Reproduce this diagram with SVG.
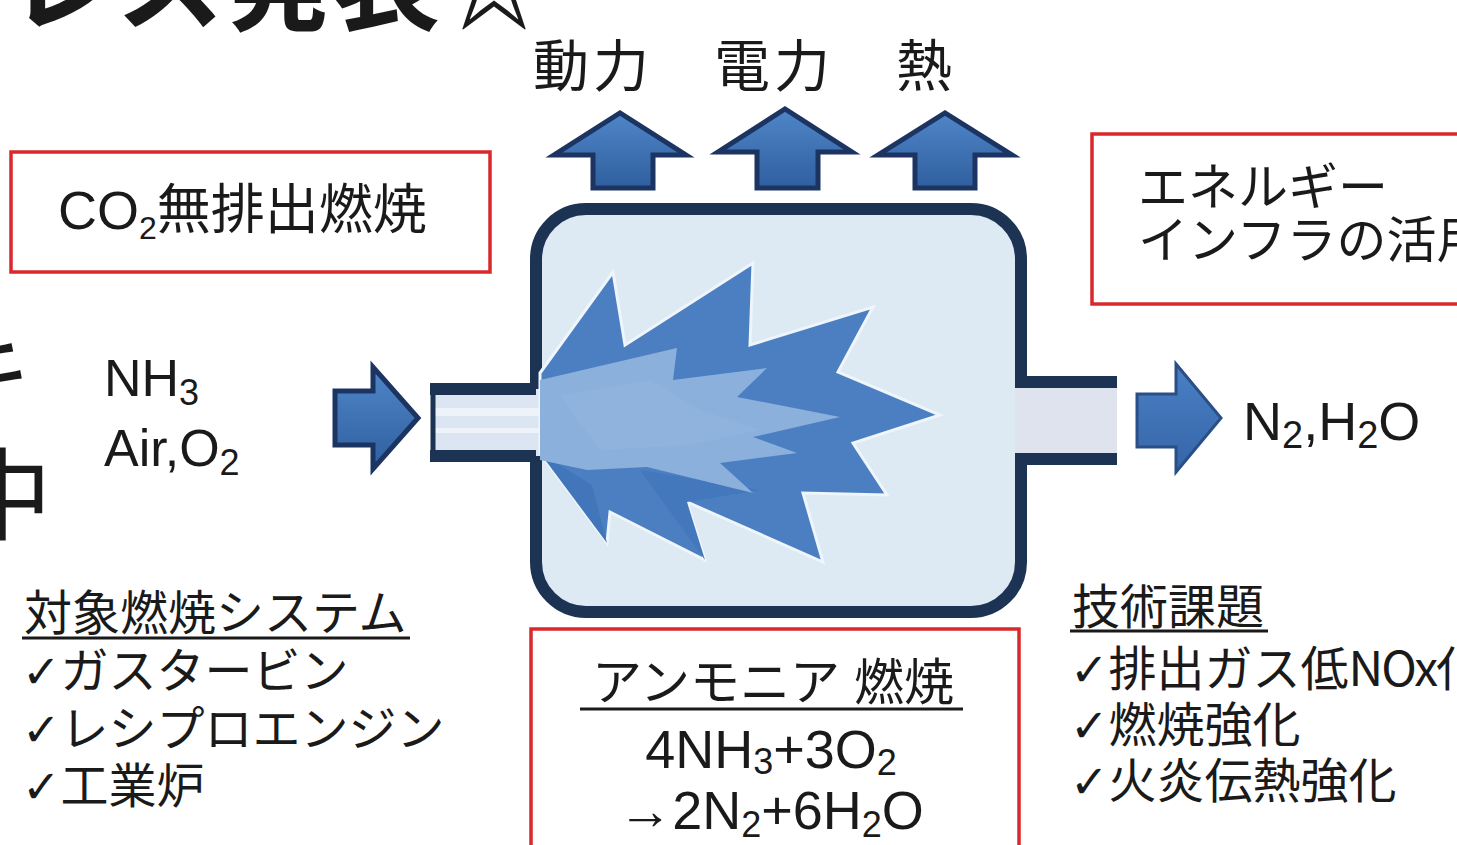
<svg xmlns="http://www.w3.org/2000/svg" width="1457" height="845" viewBox="0 0 1457 845">
  <defs>
    <style>
      .jp { font-family: "Liberation Sans", "Noto Sans CJK JP", sans-serif; fill: #1a1a1a; }
      .cjk { font-family: "Noto Sans CJK JP", sans-serif; fill: #1a1a1a; }
      .tick { font-family: "DejaVu Sans", sans-serif; font-size: 46px; }
      .redbox { fill: #ffffff; stroke: #d8282c; stroke-width: 3.5; }
      .wall { fill: none; stroke: #1d3354; stroke-width: 12; stroke-linecap: butt; }
      .arrow { fill: url(#arrowFill); stroke: #1c3462; stroke-width: 5; stroke-linejoin: miter; }
      .ul { stroke: #1a1a1a; stroke-width: 3; }
    </style>
    <linearGradient id="arrowFill" x1="0" y1="0" x2="0" y2="1">
      <stop offset="0" stop-color="#4f86c8"/>
      <stop offset="1" stop-color="#2f5f9f"/>
    </linearGradient>
    <linearGradient id="arrowFillH" x1="0" y1="0" x2="0" y2="1">
      <stop offset="0" stop-color="#4a80c4"/>
      <stop offset="1" stop-color="#3565a8"/>
    </linearGradient>
  </defs>

  <rect width="1457" height="845" fill="#ffffff"/>

  <!-- heading, running off the top edge -->
  <text class="jp" x="8" y="22" font-size="108" font-weight="bold">レス発表☆</text>
  <!-- characters running off the left edge -->
  <text class="jp" x="-18" y="410" font-size="100" text-anchor="middle">キ</text>
  <text class="jp" x="2" y="532" font-size="100" text-anchor="middle">中</text>

  <!-- outputs -->
  <g id="label-power">
    <text class="jp" x="533" y="86" font-size="56" letter-spacing="4">動力</text>
  </g>
  <g id="label-electric">
    <text class="jp" x="714" y="86" font-size="56" letter-spacing="4">電力</text>
  </g>
  <g id="label-heat">
    <text class="jp" x="896" y="86" font-size="56">熱</text>
  </g>

  <g id="co2-box">
    <rect class="redbox" x="11" y="152" width="479" height="120"/>
    <text class="jp" x="58" y="229" font-size="54">CO<tspan font-size="32" dy="10">2</tspan><tspan dy="-10">無排出燃焼</tspan></text>
  </g>

  <g id="infra-box">
    <rect class="redbox" x="1092" y="134" width="380" height="170"/>
    <text class="jp" x="1138" y="205" font-size="50">エネルギー</text>
    <text class="jp" x="1138" y="258" font-size="50">インフラの活用</text>
  </g>

  <g id="inputs">
    <text class="jp" x="104" y="396" font-size="52">NH<tspan font-size="36" dy="9">3</tspan></text>
    <text class="jp" x="104" y="466" font-size="52">Air,O<tspan font-size="36" dy="9">2</tspan></text>
  </g>

  <g id="outputs-gas">
    <text class="jp" x="1243" y="440" font-size="54">N<tspan font-size="38" dy="8">2</tspan><tspan dy="-8">,H</tspan><tspan font-size="38" dy="8">2</tspan><tspan dy="-8">O</tspan></text>
  </g>

  <!-- combustor -->
  <g id="combustor">
    <rect x="536" y="209" width="485" height="403" rx="50" fill="#dde9f3"/>
    <!-- inlet pipe -->
    <rect x="434" y="392" width="108" height="61" fill="#dce6f3"/>
    <rect x="434" y="408" width="108" height="8" fill="#eef3fa"/>
    <rect x="434" y="428" width="108" height="5" fill="#eef3fa"/>
    <path class="wall" d="M430 389 H536 M430 456 H536" stroke-width="11"/>
    <path d="M433 384 V461" stroke="#1d3354" stroke-width="5" fill="none"/>
    <!-- outlet pipe -->
    <rect x="1015" y="386" width="102" height="69" fill="#dfe3ed"/>
    <path class="wall" d="M1015 382 H1117 M1015 459 H1117" stroke-width="10"/>
    <!-- vessel wall -->
    <path class="wall" d="M536 389 V259 A50 50 0 0 1 586 209 H971 A50 50 0 0 1 1021 259 V387"/>
    <path class="wall" d="M1021 454 V562 A50 50 0 0 1 971 612 H586 A50 50 0 0 1 536 562 V456"/>
  </g>

  <!-- flame -->
  <g id="flame">
    <path d="M540 373 L613 272 L625 345 L753 263 L750 345 L873 307 L838 372 L940 415 L853 443 L887 495 L803 493 L823 562 L687 502 L705 560 L610 512 L607 543 L540 453 Z"
          fill="#4b7fc2" stroke="#eef5fb" stroke-width="3" stroke-linejoin="miter"/>
    <path d="M592 485 L607 543 L540 453 Z" fill="#4276bb"/>
    <path d="M640 470 L705 560 L687 502 L760 490 Z" fill="#4478bc"/>
    <path d="M540 380 L677 348 L673 380 L767 368 L737 397 L840 417 L753 437 L797 453 L720 463 L753 493 L647 467 L587 470 L540 460 Z"
          fill="#8cb0dc"/>
    <path d="M560 395 L650 380 L700 410 L760 430 L690 445 L600 450 Z" fill="#93b6df" opacity="0.6"/>
  </g>

  <!-- flow arrows -->
  <g id="connectors">
    <path class="arrow" d="M593 188 V155 H554 L620 113 L686 155 H653 V188 Z"/>
    <path class="arrow" d="M757 188 V152 H718 L785 109 L852 152 H818 V188 Z"/>
    <path class="arrow" d="M915 188 V155 H878 L945 113 L1012 155 H975 V188 Z"/>
    <path class="arrow" d="M335 391 H373 V367 L418 418 L373 469 V445 H335 Z"/>
    <path d="M1137 394 H1176 V364 L1221 418 L1176 472 V447 H1137 Z" fill="url(#arrowFillH)" stroke="#2a4f87" stroke-width="3"/>
  </g>

  <g id="reaction-box">
    <rect class="redbox" x="531" y="629" width="488" height="240"/>
    <text class="jp" x="773" y="700" font-size="50" text-anchor="middle">アンモニア 燃焼</text>
    <line class="ul" x1="580" y1="709" x2="963" y2="709"/>
    <text class="jp" x="771" y="768" font-size="54" text-anchor="middle">4NH<tspan font-size="36" dy="6">3</tspan><tspan dy="-6">+3O</tspan><tspan font-size="36" dy="7">2</tspan></text>
    <text class="jp" x="771" y="829" font-size="54" text-anchor="middle">→2N<tspan font-size="36" dy="8">2</tspan><tspan dy="-8">+6H</tspan><tspan font-size="36" dy="8">2</tspan><tspan dy="-8">O</tspan></text>
  </g>

  <g id="systems-list">
    <text class="jp" x="24" y="630" font-size="48">対象燃焼システム</text>
    <line class="ul" x1="22" y1="638" x2="410" y2="638"/>
    <text class="jp" x="22" y="688" font-size="48"><tspan class="tick">✓</tspan>ガスタービン</text>
    <text class="jp" x="22" y="746" font-size="48"><tspan class="tick">✓</tspan>レシプロエンジン</text>
    <text class="jp" x="22" y="803" font-size="48"><tspan class="tick">✓</tspan>工業炉</text>
  </g>

  <g id="issues-list">
    <text class="jp" x="1072" y="624" font-size="48">技術課題</text>
    <line class="ul" x1="1070" y1="631" x2="1268" y2="631"/>
    <text class="cjk" x="1070" y="686" font-size="48"><tspan class="tick">✓</tspan>排出ガス低<tspan letter-spacing="-2">NOx</tspan>化</text>
    <text class="jp" x="1070" y="742" font-size="48"><tspan class="tick">✓</tspan>燃焼強化</text>
    <text class="jp" x="1070" y="798" font-size="48"><tspan class="tick">✓</tspan>火炎伝熱強化</text>
  </g>
</svg>
